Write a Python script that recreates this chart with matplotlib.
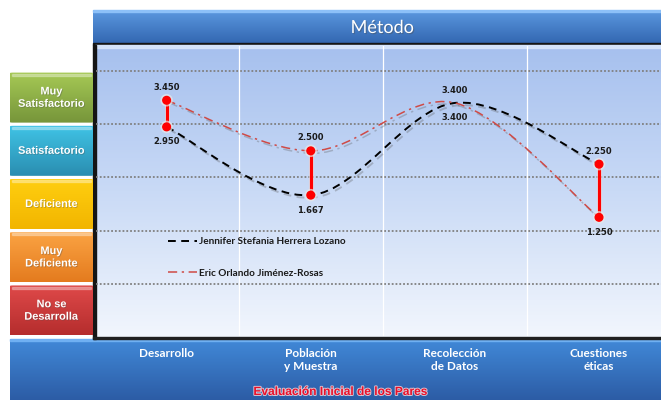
import numpy as np
import matplotlib
matplotlib.use('Agg')
import matplotlib.pyplot as plt
import matplotlib.patheffects as pe
from matplotlib.path import Path
from matplotlib.patches import PathPatch, FancyBboxPatch, Rectangle
from matplotlib.lines import Line2D
from matplotlib.colors import LinearSegmentedColormap
from matplotlib.transforms import blended_transform_factory

# Datos de la evaluación
criterios = ['Desarrollo', 'Población\ny Muestra', 'Recolección\nde Datos', 'Cuestiones\néticas']
jennifer = [2.950, 1.667, 3.400, 2.250]
eric = [3.450, 2.500, 3.400, 1.250]
nombres = ['Jennifer Stefania Herrera Lozano', 'Eric Orlando Jiménez-Rosas']
niveles = ['No se\nDesarrolla', 'Muy\nDeficiente', 'Deficiente', 'Satisfactorio', 'Muy\nSatisfactorio']
colores_niveles = [('#e04a4a', '#b52d2d'), ('#fba444', '#e47b1e'), ('#ffcf10', '#f2b500'),
                   ('#40c4e6', '#2a8db0'), ('#a6c955', '#76953a')]

W, H = 661, 400
fig = plt.figure(figsize=(W / 100, H / 100), dpi=100)
fig.patch.set_facecolor('white')

# Capa de fondo en píxeles para barras y degradados
bg = fig.add_axes([0, 0, 1, 1])
bg.axis('off')


def degradado(ax, x0, x1, y0, y1, colores, z=0, clip=None):
    cmap = LinearSegmentedColormap.from_list('g', colores)
    g = np.tile(np.linspace(0, 1, 256).reshape(-1, 1), (1, 4))
    im = ax.imshow(g, cmap=cmap, extent=(x0, x1, y1, y0), aspect='auto',
                   zorder=z, interpolation='nearest')
    if clip is not None:
        im.set_clip_path(clip)
    return im


R = W + 30  # las barras continúan más allá del borde derecho
# Barra del título
degradado(bg, 93, R, 10, 44, ['#5b98e0', '#3266b0'], z=1)
bg.add_patch(Rectangle((93, 10), R - 93, 2, color='#8cc0f8', zorder=2))
bg.add_patch(Rectangle((93, 43), R - 93, 2, color='#151515', zorder=2))
# Fondo del área de trazado
degradado(bg, 95, R, 45, 337, ['#a6c0ee', '#c9daf6', '#f2f6fd'], z=1)
bg.add_patch(Rectangle((95, 45), R - 95, 3, color='#d4e3fa', zorder=2))
# Barra inferior
degradado(bg, 10, R, 339, 400, ['#4189d8', '#2c5ca5'], z=1)
bg.add_patch(Rectangle((10, 339), R - 10, 2, color='#6fb0f2', zorder=2))
# Bordes oscuros del área de trazado
bg.add_patch(Rectangle((93, 45), 2.5, 294, color='#151515', zorder=3))
bg.add_patch(Rectangle((93, 336.5), R - 93, 2.5, color='#202020', zorder=3))
bg.set_xlim(0, W)
bg.set_ylim(H, 0)

# Ejes principales
ax = fig.add_axes([96 / W, (H - 336) / H, (W - 96) / W, 290 / H])
ax.patch.set_visible(False)
ax.set_xlim(-0.49, 3.43)
ax.set_ylim(-0.98, 4.47)
ax.axis('off')

for v in range(5):
    ax.axhline(v, color='#808080', lw=1.3, ls=(0, (1, 1.1)), zorder=1)
for v in np.arange(len(criterios) - 1) + 0.5:
    ax.axvline(v, color='white', lw=0.9, zorder=1)


def curva_suave(xs, ys):
    pts = np.column_stack([xs, ys]).astype(float)
    n = len(pts)
    verts = [pts[0]]
    codes = [Path.MOVETO]
    for i in range(n - 1):
        p0 = pts[i - 1] if i > 0 else pts[i]
        p1, p2 = pts[i], pts[i + 1]
        p3 = pts[i + 2] if i + 2 < n else pts[i + 1]
        verts += [p1 + (p2 - p0) / 6, p2 - (p3 - p1) / 6, p2]
        codes += [Path.CURVE4] * 3
    return Path(verts, codes)


x = np.arange(len(criterios))
sombra = [pe.SimpleLineShadow(offset=(1.5, -1.8), shadow_color='#555555', alpha=0.3), pe.Normal()]
estilo_j = dict(color='black', lw=1.4, ls=(0, (4, 2.8)))
estilo_e = dict(color='#cf4a46', lw=1.1, ls=(0, (6, 3, 1.5, 3)))
for serie, est in [(jennifer, estilo_j), (eric, estilo_e)]:
    ax.add_patch(PathPatch(curva_suave(x, serie), fill=False, edgecolor=est['color'],
                           lw=est['lw'], ls=est['ls'], zorder=3, path_effects=sombra))

# Líneas de máximo y mínimo con etiquetas
halo = [pe.withStroke(linewidth=3.5, foreground='#e8e8e8', alpha=0.7)]
for xi, a, b in zip(x, jennifer, eric):
    hi, lo = max(a, b), min(a, b)
    if hi > lo:
        ax.plot([xi, xi], [lo, hi], color='red', lw=2.3, zorder=4, solid_capstyle='butt',
                path_effects=halo)
        ax.plot([xi, xi], [lo, hi], 'o', color='red', ms=5.5, zorder=5,
                markeredgecolor='red', path_effects=halo)
    ax.annotate(f'{hi:.3f}', (xi, hi), xytext=(0, 6), textcoords='offset points',
                ha='center', va='bottom', fontsize=6, fontweight='bold', color='#1a1a1a', zorder=6)
    ax.annotate(f'{lo:.3f}', (xi, lo), xytext=(0, -7.5), textcoords='offset points',
                ha='center', va='top', fontsize=6, fontweight='bold', color='#1a1a1a', zorder=6)

handles = [Line2D([], [], **estilo_j), Line2D([], [], **estilo_e)]
leg = ax.legend(handles, nombres, loc='upper left', bbox_to_anchor=(0.112, 0.372),
                frameon=False, handlelength=2.9, handletextpad=0.2, labelspacing=2.25,
                prop={'family': 'Lato', 'weight': 'bold', 'size': 7.2})
for t in leg.get_texts():
    t.set_color('#1a1a1a')

# Nombres de los criterios en la barra inferior
tr = blended_transform_factory(ax.transData, fig.transFigure)
for xi, c in zip(x, criterios):
    ax.text(xi, (H - 348) / H, c, transform=tr, ha='center', va='top', color='white',
            fontsize=8.5, fontweight='bold', family='Lato', linespacing=1.25, clip_on=False)

fig.text(340 / W, (H - 392) / H, 'Evaluación Inicial de los Pares', ha='center', va='center',
         color='#e8102a', fontsize=8.6, fontweight='bold', family='Liberation Sans',
         path_effects=[pe.withStroke(linewidth=1.3, foreground='#f3d8de', alpha=0.85)])
fig.text(382 / W, (H - 28) / H, 'Método', ha='center', va='center', color='white',
         fontsize=13, family='Lato',
         path_effects=[pe.withSimplePatchShadow(offset=(0.8, -0.8), alpha=0.4)])

# Escala de niveles a la izquierda
lv = fig.add_axes([10 / W, (H - 336) / H, 83 / W, 290 / H])
lv.axis('off')
for i, (nivel, colores) in enumerate(zip(niveles, colores_niveles)):
    y0, y1 = i - 1 + 0.03, i - 0.03
    caja = FancyBboxPatch((0, y0), 1, y1 - y0, boxstyle='round,pad=0,rounding_size=0.03',
                          facecolor='none', edgecolor='none', mutation_aspect=0.3)
    lv.add_patch(caja)
    degradado(lv, 0, 1, y1, y0, list(colores), z=1, clip=caja)
    lv.add_patch(Rectangle((0.02, y1 - 0.06), 0.96, 0.04, color='white', alpha=0.3, zorder=2))
    lv.text(0.5, (y0 + y1) / 2, nivel, ha='center', va='center', color='white', fontsize=7.9,
            fontweight='bold', family='Liberation Sans', linespacing=1.3, zorder=3,
            path_effects=[pe.withSimplePatchShadow(offset=(0.6, -0.6), alpha=0.35)])
lv.set_xlim(0, 1)
lv.set_ylim(ax.get_ylim())

fig.savefig('out.png', dpi=100)
